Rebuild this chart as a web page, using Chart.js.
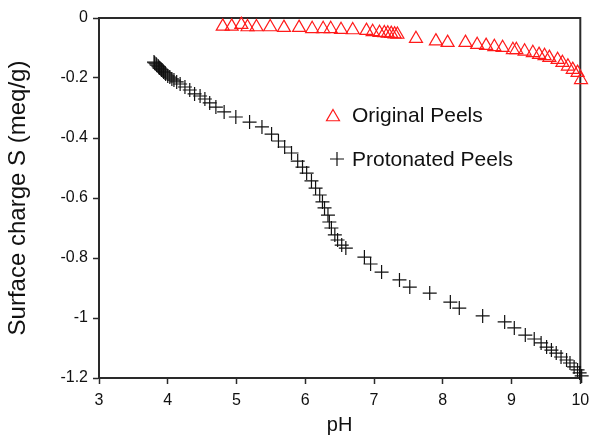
<!DOCTYPE html>
<html>
<head>
<meta charset="utf-8">
<script src="https://cdn.jsdelivr.net/npm/chart.js@4.4.1/dist/chart.umd.min.js"></script>
<style>
  html, body { margin: 0; padding: 0; background: #ffffff; }
  canvas { display: block; }
</style>
</head>
<body>
<canvas id="chart" width="589" height="439"></canvas>
<script>
// Surface charge of the peels versus pH
const seriesNames = ['Original Peels', 'Protonated Peels'];

const originalPH = [4.80, 4.93, 5.07, 5.16, 5.29, 5.49, 5.69, 5.91, 6.10, 6.26, 6.37, 6.52, 6.69, 6.89,
  6.98, 7.08, 7.15, 7.20, 7.25, 7.30, 7.34, 7.61, 7.90, 8.07, 8.33, 8.50, 8.63, 8.75, 8.87, 9.02,
  9.07, 9.19, 9.31, 9.40, 9.48, 9.55, 9.67, 9.74, 9.82, 9.89, 9.96, 10.01];
const originalS = [-0.028, -0.028, -0.022, -0.030, -0.030, -0.030, -0.032, -0.032, -0.036, -0.036,
  -0.036, -0.039, -0.040, -0.042, -0.046, -0.049, -0.050, -0.051, -0.052, -0.054, -0.055, -0.069,
  -0.077, -0.082, -0.082, -0.089, -0.092, -0.096, -0.099, -0.106, -0.106, -0.111, -0.116, -0.122,
  -0.126, -0.132, -0.139, -0.149, -0.161, -0.172, -0.182, -0.206];

const protonatedPH = [3.80, 3.81, 3.83, 3.84, 3.86, 3.87, 3.88, 3.90, 3.91, 3.93, 3.94, 3.96, 3.97,
  4.00, 4.03, 4.06, 4.09, 4.13, 4.18, 4.25, 4.32, 4.39, 4.47, 4.54, 4.61, 4.70, 4.82, 4.99, 5.19,
  5.37, 5.51, 5.61, 5.70, 5.80, 5.89, 5.96, 6.02, 6.09, 6.15, 6.21, 6.25, 6.28, 6.33, 6.35, 6.38,
  6.43, 6.47, 6.53, 6.59, 6.86, 6.95, 7.11, 7.37, 7.52, 7.81, 8.11, 8.24, 8.58, 8.90, 9.04, 9.20,
  9.33, 9.43, 9.51, 9.58, 9.65, 9.72, 9.80, 9.85, 9.91, 9.96, 9.99, 10.02];
const protonatedS = [-0.147, -0.150, -0.153, -0.157, -0.160, -0.163, -0.167, -0.170, -0.173, -0.177,
  -0.180, -0.183, -0.187, -0.193, -0.197, -0.203, -0.207, -0.213, -0.220, -0.230, -0.240, -0.253,
  -0.260, -0.270, -0.283, -0.297, -0.313, -0.330, -0.347, -0.363, -0.387, -0.410, -0.430, -0.450,
  -0.477, -0.497, -0.517, -0.543, -0.567, -0.590, -0.613, -0.633, -0.657, -0.680, -0.700, -0.723,
  -0.740, -0.757, -0.767, -0.797, -0.820, -0.847, -0.873, -0.897, -0.917, -0.947, -0.967, -0.993,
  -1.013, -1.033, -1.057, -1.070, -1.083, -1.097, -1.107, -1.117, -1.130, -1.140, -1.150, -1.163,
  -1.173, -1.183, -1.193];

const xTicks = [3, 4, 5, 6, 7, 8, 9, 10];
const yTicks = [0, -0.2, -0.4, -0.6, -0.8, -1, -1.2];

const FONT = 'Liberation Sans, Arial, Helvetica, sans-serif';
const INK = '#111111';
const AXIS = '#2a2a2a';

const toPoints = (xs, ys) => xs.map((x, i) => ({ x: x, y: ys[i] }));

// Closes the plot box on the top and right sides
const frame = {
  id: 'frame',
  beforeDatasetsDraw(chart) {
    const { ctx, chartArea: a } = chart;
    ctx.save();
    ctx.strokeStyle = AXIS;
    ctx.lineWidth = 2;
    ctx.beginPath();
    ctx.moveTo(a.left, a.top);
    ctx.lineTo(a.right, a.top);
    ctx.lineTo(a.right, a.bottom);
    ctx.stroke();
    ctx.restore();
  }
};

// Legend placed inside the plot area
const innerLegend = {
  id: 'innerLegend',
  afterDatasetsDraw(chart) {
    const { ctx } = chart;
    const rows = [
      { ds: chart.data.datasets[0], mx: 333, my: 117, tx: 352, ty: 116 },
      { ds: chart.data.datasets[1], mx: 337, my: 159, tx: 352, ty: 160 }
    ];
    ctx.save();
    rows.forEach(r => {
      ctx.strokeStyle = r.ds.borderColor;
      ctx.fillStyle = 'rgba(0,0,0,0)';
      ctx.lineWidth = r.ds.pointBorderWidth;
      Chart.helpers.drawPoint(ctx, {
        pointStyle: r.ds.pointStyle,
        radius: r.ds.pointRadius,
        rotation: 0,
        borderWidth: r.ds.pointBorderWidth
      }, r.mx, r.my);
      ctx.fillStyle = INK;
      ctx.font = '21px ' + FONT;
      ctx.textAlign = 'left';
      ctx.textBaseline = 'middle';
      ctx.fillText(r.ds.label, r.tx, r.ty);
    });
    ctx.restore();
  }
};

new Chart(document.getElementById('chart'), {
  type: 'scatter',
  data: {
    datasets: [
      {
        label: seriesNames[0],
        data: toPoints(originalPH, originalS),
        pointStyle: 'triangle',
        pointRadius: 7.5,
        pointBorderWidth: 1.2,
        borderColor: '#ff1a1a',
        backgroundColor: 'rgba(0,0,0,0)',
        pointHoverRadius: 7.5,
        clip: false
      },
      {
        label: seriesNames[1],
        data: toPoints(protonatedPH, protonatedS),
        pointStyle: 'cross',
        pointRadius: 7,
        pointBorderWidth: 1.2,
        borderColor: '#111111',
        backgroundColor: 'rgba(0,0,0,0)',
        pointHoverRadius: 7,
        clip: false
      }
    ]
  },
  options: {
    responsive: false,
    animation: false,
    events: [],
    layout: { padding: { top: 18, right: 8, left: 0, bottom: 0 } },
    plugins: {
      legend: { display: false },
      tooltip: { enabled: false }
    },
    scales: {
      x: {
        type: 'linear',
        min: 3,
        max: 10,
        afterBuildTicks: s => { s.ticks = xTicks.map(v => ({ value: v })); },
        afterFit: s => { s.height = 61; s.paddingLeft = 0; s.paddingRight = 0; },
        border: { display: true, color: AXIS, width: 2 },
        grid: { drawOnChartArea: false, drawTicks: true, tickLength: 6, tickColor: AXIS, tickWidth: 1.5 },
        ticks: {
          padding: 7,
          color: INK,
          font: { family: FONT, size: 16 },
          maxRotation: 0,
          callback: v => String(v)
        },
        title: {
          display: true,
          text: 'pH',
          color: INK,
          font: { family: FONT, size: 20 },
          padding: { top: 0, bottom: 2 }
        }
      },
      y: {
        type: 'linear',
        min: -1.2,
        max: 0,
        afterBuildTicks: s => { s.ticks = yTicks.map(v => ({ value: v })); },
        afterFit: s => { s.width = 99; s.paddingTop = 0; s.paddingBottom = 0; },
        border: { display: true, color: AXIS, width: 2 },
        grid: { drawOnChartArea: false, drawTicks: true, tickLength: 6, tickColor: AXIS, tickWidth: 1.5 },
        ticks: {
          padding: 5,
          color: INK,
          font: { family: FONT, size: 16 },
          callback: v => String(v)
        },
        title: {
          display: true,
          text: 'Surface charge S (meq/g)',
          color: INK,
          font: { family: FONT, size: 24 },
          padding: { top: 4, bottom: 0 }
        }
      }
    }
  },
  plugins: [frame, innerLegend]
});
</script>
</body>
</html>
